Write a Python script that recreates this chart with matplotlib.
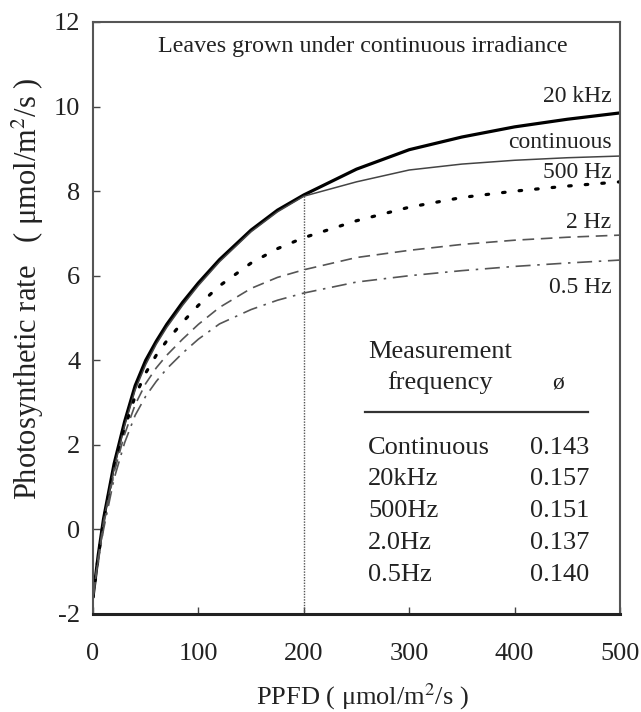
import matplotlib
matplotlib.use("Agg")
import matplotlib.pyplot as plt

plt.rcParams['font.family'] = ['Liberation Serif', 'DejaVu Serif']
plt.rcParams['mathtext.fontset'] = 'stix'
plt.rcParams['axes.unicode_minus'] = False

ppfd = [0, 5, 10, 20, 30, 40, 50, 60, 70, 85, 100, 120, 150, 175, 200,
        250, 300, 350, 400, 450, 500]

# photosynthetic rate
rate_20khz = [-1.6, -0.6, 0.25, 1.55, 2.55, 3.4, 4.0, 4.45, 4.85, 5.37, 5.83,
              6.38, 7.08, 7.55, 7.91, 8.52, 8.98, 9.28, 9.52, 9.7, 9.85]
rate_cont = [-1.6, -0.65, 0.2, 1.45, 2.45, 3.3, 3.9, 4.38, 4.78, 5.3, 5.77,
             6.33, 7.04, 7.51, 7.88, 8.22, 8.5, 8.64, 8.73, 8.79, 8.83]
rate_500hz = [-1.6, -0.65, 0.2, 1.45, 2.4, 3.15, 3.7, 4.12, 4.46, 4.9, 5.3,
              5.76, 6.3, 6.64, 6.9, 7.3, 7.62, 7.85, 8.0, 8.12, 8.22]
rate_2hz = [-1.6, -0.7, 0.1, 1.35, 2.25, 2.95, 3.45, 3.82, 4.12, 4.5, 4.85,
            5.25, 5.7, 5.96, 6.14, 6.43, 6.6, 6.74, 6.84, 6.91, 6.96]
rate_05hz = [-1.6, -0.75, 0.0, 1.2, 2.05, 2.7, 3.15, 3.5, 3.8, 4.17, 4.5,
             4.86, 5.2, 5.42, 5.59, 5.85, 6.0, 6.12, 6.22, 6.3, 6.37]

# marked PPFD and where the top curve crosses it
mark_ppfd = 200
mark_top = 7.91

curve_labels = ['20 kHz', 'continuous', '500 Hz', '2 Hz', '0.5 Hz']
curve_label_y = [10.23, 9.16, 8.43, 7.27, 5.71]

table_freq = ['Continuous', '20kHz', '500Hz', '2.0Hz', '0.5Hz']
table_phi = ['0.143', '0.157', '0.151', '0.137', '0.140']

fig = plt.figure(figsize=(6.41, 7.12), dpi=100)
ax = fig.add_axes([93 / 641, 1 - 614 / 712, 527 / 641, 592 / 712])

ax.plot(ppfd, rate_20khz, color='black', lw=2.3, solid_capstyle='round')
ax.plot(ppfd, rate_cont, color='#444444', lw=1.1)
ax.plot(ppfd, rate_500hz, color='black', lw=2.3, linestyle=(0, (0.8, 4.4)),
        dash_capstyle='round')
ax.plot(ppfd, rate_2hz, color='#555555', lw=1.2, linestyle=(0, (7, 4)))
ax.plot(ppfd, rate_05hz, color='#555555', lw=1.2, linestyle=(0, (9, 4, 1.5, 4)))

ax.plot([mark_ppfd, mark_ppfd], [-2, mark_top], color='#555555', lw=1.0,
        linestyle=(0, (1, 1)))

for lab, y in zip(curve_labels, curve_label_y):
    ax.text(492, y, lab, ha='right', va='center', fontsize=17, color='#222222')

ax.text(256, 11.42, 'Leaves grown under continuous irradiance', ha='center',
        va='center', fontsize=17.3, color='#222222')

# table of quantum yields, placed in axes pixel fractions
def px(x, y):
    return ((x - 93) / 527, (614 - y) / 592)

tsize = 19
ax.text(*px(440, 352), 'Measurement', transform=ax.transAxes, ha='center',
        va='center', fontsize=tsize, color='#222222')
ax.text(*px(440, 383), 'frequency', transform=ax.transAxes, ha='center',
        va='center', fontsize=tsize, color='#222222')
ax.text(*px(558, 383), 'ø', transform=ax.transAxes, ha='center',
        va='center', fontsize=tsize - 2, color='#222222')
x0, yl = px(365, 412)
x1, _ = px(588, 412)
ax.plot([x0, x1], [yl, yl], transform=ax.transAxes, color='#333333', lw=1.6)
row_y = [448, 479, 511, 543, 575]
for f, p, y in zip(table_freq, table_phi, row_y):
    ax.text(*px(368, y), f, transform=ax.transAxes, ha='left', va='center',
            fontsize=tsize, color='#222222')
    ax.text(*px(589, y), p, transform=ax.transAxes, ha='right', va='center',
            fontsize=tsize, color='#222222')

ax.set_xlim(0, 500)
ax.set_ylim(-2, 12)
ax.set_xticks([0, 100, 200, 300, 400, 500])
ax.set_yticks([-2, 0, 2, 4, 6, 8, 10, 12])
ax.tick_params(axis='both', direction='in', length=5, width=1.0,
               colors='#444444', labelcolor='#222222', labelsize=19)
ax.tick_params(axis='x', pad=21)
ax.tick_params(axis='y', pad=9)

ax.spines['bottom'].set_linewidth(2.2)
ax.spines['bottom'].set_color('#222222')
for s in ['left', 'top', 'right']:
    ax.spines[s].set_linewidth(1.5)
    ax.spines[s].set_color('#555555')

ax.set_xlabel('PPFD ( μmol/m$^2$/s )', fontsize=19, color='#222222', va='center')
ax.xaxis.set_label_coords((362 - 93) / 527, (614 - 697) / 592)
ax.set_ylabel('Photosynthetic rate   ( μmol/m$^2$/s )', fontsize=22,
              color='#222222', va='center')
ax.yaxis.set_label_coords((28 - 93) / 527, (614 - 289) / 592)

fig.savefig('out.png', dpi=100)
